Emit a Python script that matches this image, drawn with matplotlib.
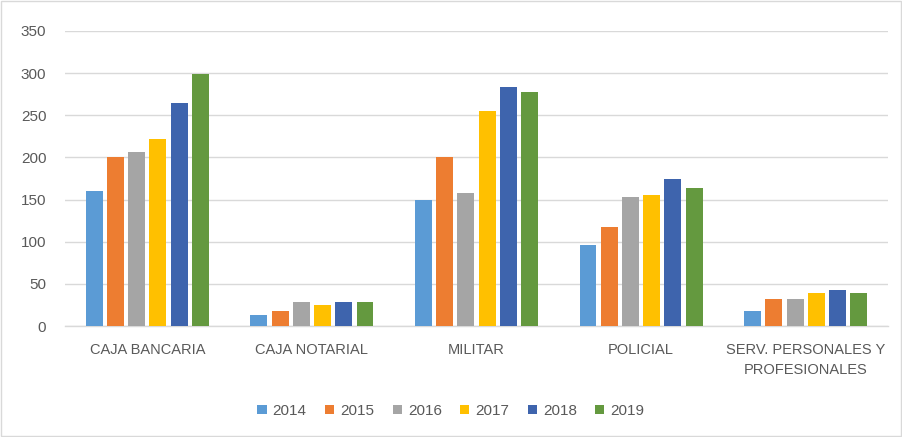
import matplotlib
matplotlib.use("Agg")
import matplotlib.pyplot as plt
from matplotlib.patches import Rectangle
import numpy as np

categories = ["CAJA BANCARIA", "CAJA NOTARIAL", "MILITAR", "POLICIAL", "SERV. PERSONALES Y\nPROFESIONALES"]
years = ["2014", "2015", "2016", "2017", "2018", "2019"]
v2014 = [160, 13, 150, 96, 18]
v2015 = [201, 18, 201, 118, 32]
v2016 = [206, 29, 158, 153, 32]
v2017 = [222, 25, 255, 155, 39]
v2018 = [265, 29, 283, 175, 43]
v2019 = [299, 29, 278, 164, 39]
series = [v2014, v2015, v2016, v2017, v2018, v2019]
colors = ["#5B9BD5", "#ED7D31", "#A5A5A5", "#FFC000", "#3E64AD", "#64993F"]
yticks = [0, 50, 100, 150, 200, 250, 300, 350]

plt.rcParams['font.family'] = ['Liberation Sans', 'DejaVu Sans']
fig = plt.figure(figsize=(9.02, 4.37), dpi=100)
ax = fig.add_axes([65/902, 1-326/437, 823/902, 295/437])

x = np.arange(len(categories))
slot = 0.129
bw = 0.103
for i, (vals, c, yr) in enumerate(zip(series, colors, years)):
    ax.bar(x + (i - 2.5) * slot, vals, width=bw, color=c, label=yr, zorder=3)

ax.set_xlim(-0.5, 4.5)
ax.set_ylim(0, 350)
ax.set_yticks(yticks)
ax.yaxis.grid(True, color="#D9D9D9", linewidth=1, zorder=0)
ax.tick_params(axis='y', length=0, labelsize=11, labelcolor="#595959", pad=13.5)
ax.set_xticks(x)
ax.set_xticklabels(categories)
ax.tick_params(axis='x', length=0, labelsize=10.5, labelcolor="#595959", pad=12)
for lbl in ax.get_xticklabels():
    lbl.set_linespacing(1.6)
for s in ["top", "right", "left"]:
    ax.spines[s].set_visible(False)
ax.spines["bottom"].set_color("#D9D9D9")
ax.spines["bottom"].set_linewidth(1)

leg = fig.legend(loc="center", bbox_to_anchor=(0.5, 1-411/437), ncol=6, frameon=False,
                 fontsize=11, handlelength=0.6, handleheight=0.6, handletextpad=0.4,
                 columnspacing=1.2)
for t in leg.get_texts():
    t.set_color("#595959")

fig.patches.append(Rectangle((1/902, 1/437), 900/902, 435/437, transform=fig.transFigure,
                             fill=False, edgecolor="#D9D9D9", linewidth=1))
fig.savefig("out.png", dpi=100, facecolor="white")
